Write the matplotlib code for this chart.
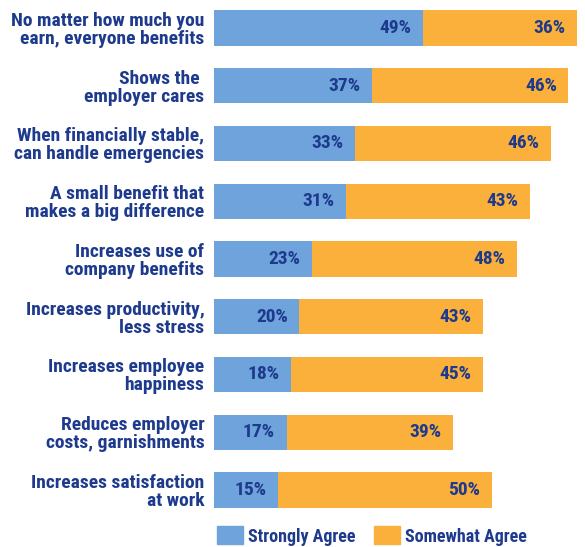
import matplotlib
matplotlib.use("Agg")
import matplotlib.pyplot as plt
from matplotlib.patches import Patch

# ---------------------------------------------------------------------------
# Data
# ---------------------------------------------------------------------------
categories = [
    "No matter how much you\nearn, everyone benefits",
    "Shows the \nemployer cares",
    "When financially stable,\ncan handle emergencies",
    "A small benefit that\nmakes a big difference",
    "Increases use of\ncompany benefits",
    "Increases productivity,\nless stress",
    "Increases employee\nhappiness",
    "Reduces employer\ncosts, garnishments",
    "Increases satisfaction\nat work",
]
strongly = [49, 37, 33, 31, 23, 20, 18, 17, 15]
somewhat = [36, 46, 46, 43, 48, 43, 45, 39, 50]
series_names = ["Strongly Agree", "Somewhat Agree"]

BLUE = "#6fa3dc"
ORANGE = "#fbb03b"
NAVY = "#1d3a8c"
FS = 14

# condensed bold font, with fallbacks
plt.rcParams["font.family"] = ["Roboto Condensed", "Liberation Sans Narrow", "DejaVu Sans"]

W, H = 585, 547
fig = plt.figure(figsize=(W / 100, H / 100), dpi=100)
ax = fig.add_axes([214 / W, 1 - 520 / H, 366 / W, 520 / H])

y = list(range(len(categories)))
ax.barh(y, strongly, height=0.61, color=BLUE)
ax.barh(y, somewhat, left=strongly, height=0.61, color=ORANGE)

ax.set_xlim(0, 366 / 4.27)
ax.set_ylim(8.52, -0.485)

txt = dict(color=NAVY, fontweight="bold", fontsize=FS)
for i, (a, b) in enumerate(zip(strongly, somewhat)):
    ax.text(a - 2.7, i, f"{a}%", ha="right", va="center", **txt)
    ax.text(a + b - 2.7, i, f"{b}%", ha="right", va="center", **txt)

ax.set_yticks(y)
ax.set_yticklabels(categories, ha="right", linespacing=1.0, **txt)
ax.tick_params(axis="y", length=0, pad=7)
ax.set_xticks([])
for s in ax.spines.values():
    s.set_visible(False)

handles = [Patch(color=BLUE), Patch(color=ORANGE)]
leg = fig.legend(handles, series_names, ncol=2, loc="center left",
                 bbox_to_anchor=(201 / W, 1 - 536 / H), frameon=False,
                 handlelength=1.4, handleheight=1.15, handletextpad=0.3,
                 columnspacing=1.05,
                 prop=dict(weight="bold", size=13))
for t in leg.get_texts():
    t.set_color(NAVY)

fig.savefig("out.png", dpi=100)
